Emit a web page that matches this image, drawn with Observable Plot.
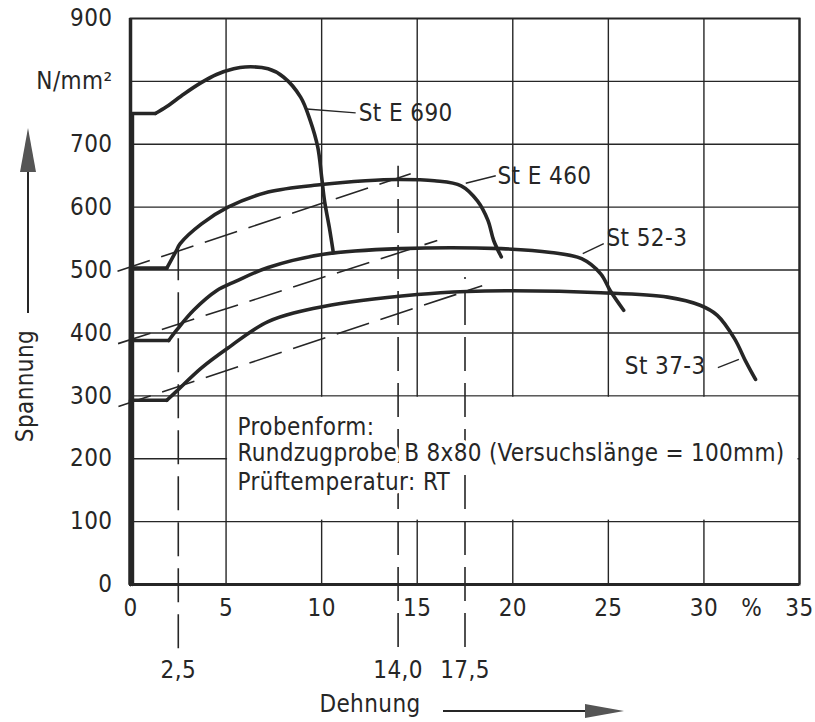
<!DOCTYPE html>
<html>
<head>
<meta charset="utf-8">
<style>
  html, body { margin: 0; padding: 0; background: #fff; }
  svg text { letter-spacing: 0.4px; }
</style>
<script src="https://cdn.jsdelivr.net/npm/d3@7"></script>
<script src="https://cdn.jsdelivr.net/npm/@observablehq/plot@0.6"></script>
</head>
<body>
<div id="chart"></div>
<script>
// ---------- data ----------
const xGrid = [5, 10, 15, 20, 25, 30];
const yGrid = [100, 200, 300, 400, 500, 600, 700, 800];
const xTicks = [0, 5, 10, 15, 20, 25, 30, 32.5, 35];
const yTicks = [0, 100, 200, 300, 400, 500, 600, 700, 800, 900];
const markTicks = [2.5, 14.0, 17.5];

// first three points of each series: elastic rise + yield plateau (straight)
const stE690X = [0.1, 0.1, 1.3, 1.9, 2.8, 3.7, 4.5, 5.4, 6.0, 7.2, 8.0, 8.9, 9.4, 9.8, 10.0, 10.15, 10.4, 10.6];
const stE690Y = [0, 749, 749, 760, 780, 798, 811, 820, 823, 820, 807, 775, 738, 695, 648, 610, 568, 530];

const stE460X = [0, 0, 1.9, 2.4, 2.6, 3.7, 5.1, 7.2, 10.0, 12.3, 14.0, 15.9, 17.3, 18.15, 18.7, 19.0, 19.4];
const stE460Y = [0, 503, 503, 531, 542, 573, 600, 624, 636, 642, 644, 642, 634, 610, 579, 547, 521];

const st523X = [0, 0, 2.0, 2.4, 3.3, 4.5, 5.5, 7.2, 10.1, 14.1, 19.4, 22.0, 23.6, 24.6, 25.1, 25.8];
const st523Y = [0, 388, 388, 404, 436, 467, 482, 504, 525, 534, 534, 528, 518, 494, 467, 436];

const st373X = [0, 0, 1.9, 2.4, 3.7, 5.1, 7.2, 10.1, 15.0, 17.6, 20.0, 24.6, 28.1, 29.8, 30.7, 31.6, 32.2, 32.7];
const st373Y = [0, 293, 293, 307, 344, 376, 418, 442, 461, 466, 467, 464, 457, 444, 428, 391, 354, 326];

const seriesNames = ["St E 690", "St E 460", "St 52-3", "St 37-3"];

// construction lines (dashed)
const slopeX1 = [-0.68, -0.65, -0.63];
const slopeY1 = [498, 383, 283];
const slopeX2 = [14.66, 16.05, 18.4];
const slopeY2 = [653, 547, 475];

const vDashX = [2.5, 14.0, 17.5];
const vDashTop = [550, 665, 488];
const vDashBottom = [-102, -100, -100];

// curve labels and leader lines
const labelX = [11.94, 19.2, 24.9, 25.86];
const labelY = [750, 649, 550, 347];
const leaderX1 = [9.21, 17.54, 23.66, 30.73];
const leaderY1 = [756, 638, 526, 345];
const leaderX2 = [11.78, 19.11, 24.76, 31.83];
const leaderY2 = [750, 650, 542, 358];

// info box
const infoLines = ["Probenform:", "Rundzugprobe B 8x80 (Versuchslänge = 100mm)", "Prüftemperatur: RT"];
const infoY = [250, 208, 162];
const infoX = 5.6;
const infoBox = [{x1: 5, x2: 35, y1: 100, y2: 300}];

// ---------- build tables ----------
const curveXs = [stE690X, stE460X, st523X, st373X];
const curveYs = [stE690Y, stE460Y, st523Y, st373Y];
const straight = seriesNames.flatMap((s, i) => curveXs[i].slice(0, 3).map((x, j) => ({series: s, x, y: curveYs[i][j]})));
const curved = seriesNames.flatMap((s, i) => curveXs[i].slice(2).map((x, j) => ({series: s, x, y: curveYs[i][j + 2]})));
const slopes = slopeX1.map((x1, i) => ({x1, y1: slopeY1[i], x2: slopeX2[i], y2: slopeY2[i]}));
const vDashes = vDashX.map((x, i) => ({x, y1: vDashBottom[i], y2: vDashTop[i]}));
const labels = seriesNames.map((t, i) => ({t, x: labelX[i], y: labelY[i]}));
const leaders = leaderX1.map((x1, i) => ({x1, y1: leaderY1[i], x2: leaderX2[i], y2: leaderY2[i]}));
const info = infoLines.map((t, i) => ({t, x: infoX, y: infoY[i]}));

const INK = "#262626";
const FONT = '"DejaVu Sans Condensed", "Liberation Sans Narrow", "Liberation Sans", sans-serif';

const plot = Plot.plot({
  width: 815,
  height: 722,
  marginLeft: 130,
  marginRight: 16,
  marginTop: 18,
  marginBottom: 138,
  x: {domain: [0, 35]},
  y: {domain: [0, 900]},
  style: {fontFamily: FONT, fontSize: "24px", color: INK, background: "#fff", overflow: "visible"},
  marks: [
    Plot.ruleX(xGrid, {stroke: INK, strokeWidth: 1.4}),
    Plot.ruleY(yGrid, {stroke: INK, strokeWidth: 1.4}),
    Plot.rect(infoBox, {x1: "x1", x2: "x2", y1: "y1", y2: "y2", fill: "white", inset: 1.5}),
    Plot.ruleX(vDashes, {x: "x", y1: "y1", y2: "y2", stroke: INK, strokeWidth: 1.6, strokeDasharray: "34,12"}),
    Plot.link(slopes, {x1: "x1", y1: "y1", x2: "x2", y2: "y2", stroke: INK, strokeWidth: 1.6, strokeDasharray: "34,12"}),
    Plot.text(info, {x: "x", y: "y", text: "t", textAnchor: "start", fill: INK, stroke: "white", strokeWidth: 7}),
    Plot.frame({stroke: INK, strokeWidth: 2}),
    Plot.ruleX([0], {stroke: INK, strokeWidth: 3.5}),
    Plot.ruleY([0], {stroke: INK, strokeWidth: 3}),
    Plot.axisY(yTicks, {tickSize: 0, tickPadding: 18, tickFormat: d => d === 800 ? "N/mm²" : d, label: null}),
    Plot.axisX(xTicks, {tickSize: 0, tickPadding: 14, tickFormat: d => d === 32.5 ? "%" : d, label: null}),
    Plot.axisX(markTicks, {tickSize: 0, tickPadding: 76, tickFormat: d => d.toFixed(1).replace(".", ","), label: null}),
    Plot.line(straight, {x: "x", y: "y", z: "series", stroke: INK, strokeWidth: 3.6, strokeLinejoin: "round", strokeLinecap: "round"}),
    Plot.line(curved, {x: "x", y: "y", z: "series", stroke: INK, strokeWidth: 3.6, curve: "catmull-rom", strokeLinejoin: "round", strokeLinecap: "round"}),
    Plot.link(leaders, {x1: "x1", y1: "y1", x2: "x2", y2: "y2", stroke: INK, strokeWidth: 1.4}),
    Plot.text(labels, {x: "x", y: "y", text: "t", textAnchor: "start", fill: INK}),
    Plot.ruleX([35], {stroke: INK, strokeWidth: 2})
  ]
});

const svg = d3.select(plot);
// tighten the long info line so it ends inside the frame, as in the reference
svg.selectAll("text").filter(function () { return this.textContent.startsWith("Rundzug"); })
  .style("letter-spacing", "0.3px");

// axis titles with arrows
const g = svg.append("g").attr("fill", INK).attr("stroke", "none");
g.append("line").attr("x1", 28).attr("x2", 28).attr("y1", 313).attr("y2", 168)
  .attr("stroke", INK).attr("stroke-width", 2);
g.append("path").attr("d", "M28,128 L20,172 L36,172 Z").attr("fill", "#555");
g.append("text").attr("transform", "translate(33,386) rotate(-90)")
  .attr("text-anchor", "middle").text("Spannung");
g.append("text").attr("x", 370).attr("y", 712).attr("text-anchor", "middle").text("Dehnung");
g.append("line").attr("x1", 443).attr("x2", 590).attr("y1", 711).attr("y2", 711)
  .attr("stroke", INK).attr("stroke-width", 2);
g.append("path").attr("d", "M624,711 L585,704 L585,718 Z").attr("fill", "#555");

document.getElementById("chart").appendChild(plot);
</script>
</body>
</html>
